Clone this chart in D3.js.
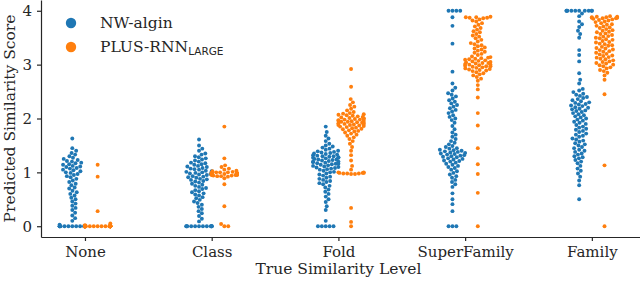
<!DOCTYPE html>
<html>
<head>
<meta charset="utf-8">
<script src="https://cdn.jsdelivr.net/npm/d3@7"></script>
<style>
  body { margin: 0; background: #fff; }
  text { font-family: "DejaVu Serif", serif; fill: #262626; }
</style>
</head>
<body>
<svg id="chart" width="640" height="281"></svg>
<script>
const categories = ["None", "Class", "Fold", "SuperFamily", "Family"];
const seriesNames = ["NW-algin", "PLUS-RNN"];
const yTicks = [0, 1, 2, 3, 4];

// NW-algin scores, one array per true similarity level
const nwNone = [0, 0, 0, 0, 0, 0, 0, 0, 0, 0, 0, 0, 0, 0, 0.03,
  0.1, 0.15, 0.2, 0.25, 0.3, 0.34, 0.38, 0.42,
  0.46, 0.5, 0.53, 0.57, 0.6, 0.63, 0.66, 0.7, 0.72, 0.76, 0.79, 0.82, 0.85, 0.88, 0.91, 0.93,
  0.95, 0.97, 0.99, 1.0, 1.02, 1.04, 1.05, 1.07, 1.08, 1.1, 1.11, 1.12, 1.14, 1.15, 1.17, 1.18, 1.2, 1.21, 1.23, 1.25, 1.27, 1.3,
  1.33, 1.36, 1.4, 1.45, 1.63];
const nwClass = [0, 0, 0, 0, 0, 0, 0, 0, 0, 0, 0, 0,
  0.09, 0.14, 0.19, 0.24, 0.28, 0.32, 0.36, 0.4, 0.43,
  0.46, 0.49, 0.52, 0.54, 0.57, 0.59, 0.61, 0.63, 0.65, 0.67, 0.69, 0.71, 0.73, 0.75, 0.77, 0.79, 0.81, 0.83, 0.84, 0.86,
  0.87, 0.88, 0.9, 0.91, 0.92, 0.93, 0.95, 0.96, 0.97, 0.98, 0.99, 1.0, 1.01, 1.02, 1.03, 1.05, 1.06, 1.07, 1.08, 1.1,
  1.11, 1.12, 1.14, 1.15, 1.17, 1.18, 1.2, 1.22, 1.24, 1.26, 1.28, 1.3, 1.33, 1.35,
  1.4, 1.44, 1.5, 1.61];
const nwFold = [0, 0, 0, 0, 0, 0.1,
  0.3, 0.37, 0.45, 0.5, 0.55, 0.6, 0.64, 0.68, 0.72, 0.75, 0.78, 0.8, 0.82, 0.84, 0.86,
  0.88, 0.9, 0.92, 0.94, 0.96, 0.98, 1.0, 1.01, 1.03, 1.05, 1.06, 1.07, 1.08, 1.09,
  1.1, 1.11, 1.12, 1.13, 1.14, 1.15, 1.16, 1.16, 1.17, 1.18, 1.19, 1.2, 1.2, 1.21, 1.22, 1.23, 1.24, 1.24,
  1.25, 1.26, 1.27, 1.27, 1.28, 1.29, 1.3, 1.3, 1.31, 1.32, 1.33, 1.34, 1.35, 1.36, 1.37, 1.38, 1.39, 1.4,
  1.42, 1.44, 1.46, 1.48, 1.5, 1.53, 1.58, 1.63, 1.68, 1.75, 1.85];
const nwSuperFamily = [0, 0, 0, 0.28, 0.41, 0.5, 0.61,
  0.73, 0.78, 0.82, 0.86, 0.9, 0.93, 0.96, 0.99, 1.02, 1.05, 1.08,
  1.1, 1.12, 1.14, 1.16, 1.18, 1.2, 1.21, 1.22, 1.24, 1.25, 1.26, 1.28, 1.29, 1.3, 1.31, 1.32, 1.33, 1.34,
  1.35, 1.36, 1.37, 1.38, 1.39, 1.4, 1.41, 1.42, 1.44, 1.45, 1.47, 1.49, 1.52, 1.55, 1.58, 1.62, 1.66, 1.7, 1.74,
  1.8, 1.86, 1.92, 1.97,
  2.0, 2.03, 2.06, 2.1, 2.13, 2.16, 2.19, 2.22, 2.25, 2.28, 2.31, 2.34, 2.37, 2.41, 2.44,
  2.47, 2.52, 2.57, 2.65, 2.87, 3.39, 3.72, 3.88, 4, 4, 4, 4];
const nwFamily = [0.5, 0.76, 0.85, 0.92, 0.98, 1.03, 1.07, 1.12, 1.17,
  1.2, 1.23, 1.26, 1.28, 1.3, 1.33, 1.35, 1.38, 1.4, 1.42, 1.45, 1.47, 1.5, 1.52, 1.54, 1.57, 1.59, 1.61, 1.63,
  1.66, 1.68, 1.7, 1.72, 1.75, 1.77, 1.79, 1.81, 1.83, 1.85, 1.88, 1.9, 1.92, 1.94, 1.96, 1.98, 2.0, 2.02,
  2.04, 2.06, 2.08, 2.1,
  2.12, 2.14, 2.15, 2.17, 2.18, 2.2, 2.21, 2.23, 2.24, 2.26, 2.27, 2.29, 2.3, 2.32, 2.34, 2.36, 2.38, 2.4,
  2.42, 2.44, 2.46, 2.49, 2.52, 2.55,
  2.65, 2.72, 2.84, 3.06, 3.18, 3.27, 3.5, 3.57, 3.63, 3.7, 3.75, 3.8, 3.9, 3.95,
  4, 4, 4, 4, 4, 4, 4, 4, 4, 4];

// PLUS-RNN(LARGE) scores
const plusNone = [0, 0, 0, 0, 0, 0, 0, 0, 0, 0, 0, 0, 0, 0, 0, 0, 0, 0, 0, 0,
  0, 0, 0, 0, 0, 0, 0, 0, 0, 0, 0, 0, 0, 0, 0, 0, 0, 0, 0, 0,
  0.01, 0.01, 0.02, 0.05, 0.28, 0.92, 1.14];
const plusClass = [0, 0, 0.04, 0.37, 0.78, 0.89,
  0.92, 0.93, 0.93, 0.94, 0.94, 0.95, 0.95, 0.95, 0.96, 0.96, 0.96, 0.97, 0.97, 0.97, 0.97,
  0.98, 0.98, 0.98, 0.98, 0.99, 0.99, 0.99, 1.0, 1.0, 1.0, 1.01, 1.02,
  1.03, 1.05, 1.07, 1.1, 1.13, 1.26, 1.85];
const plusFold = [0, 0.08, 0.34,
  0.97, 0.97, 0.98, 0.98, 0.98, 0.99, 0.99, 0.99, 1.0, 1.0,
  1.05, 1.12, 1.22, 1.32, 1.4, 1.47, 1.53, 1.58, 1.62, 1.65, 1.68, 1.7, 1.72, 1.74, 1.76, 1.77, 1.78,
  1.8, 1.81, 1.82, 1.83,
  1.84, 1.85, 1.86, 1.87, 1.88, 1.88, 1.89, 1.9, 1.9, 1.91, 1.92, 1.92, 1.93, 1.94, 1.94, 1.95, 1.96, 1.96,
  1.97, 1.98, 1.98, 1.99, 2.0, 2.0, 2.01, 2.02, 2.03, 2.04, 2.05, 2.06, 2.07, 2.08, 2.09, 2.1, 2.12,
  2.15, 2.18, 2.22, 2.25, 2.3, 2.36, 2.59, 2.92];
const plusSuperFamily = [0, 0.62, 0.97, 1.15, 1.45, 1.87, 2.1, 2.39, 2.54, 2.62,
  2.7, 2.74, 2.77, 2.8, 2.82, 2.84, 2.86,
  2.88, 2.89, 2.9, 2.91, 2.92, 2.93, 2.94, 2.95, 2.96, 2.97, 2.97, 2.98, 2.99, 3.0, 3.0, 3.01, 3.02, 3.03,
  3.03, 3.04, 3.05, 3.06, 3.07, 3.08, 3.09, 3.1, 3.11, 3.12, 3.13, 3.14, 3.15,
  3.18, 3.2, 3.22, 3.24, 3.26, 3.28, 3.3, 3.32, 3.34, 3.36, 3.38, 3.4,
  3.43, 3.46, 3.49, 3.52, 3.54, 3.57, 3.6, 3.62, 3.65, 3.68, 3.71, 3.74, 3.77, 3.8, 3.82, 3.84,
  3.86, 3.87, 3.87, 3.88, 3.88, 3.89];
const plusFamily = [0, 1.13, 2.45, 2.72, 2.8, 2.85, 2.88, 2.9, 2.93, 2.95,
  2.97, 2.99, 3.0, 3.02, 3.03, 3.05, 3.06, 3.08, 3.1, 3.11, 3.13, 3.14, 3.16, 3.17, 3.19, 3.2, 3.22, 3.24,
  3.25, 3.27, 3.28, 3.3, 3.31, 3.33, 3.35, 3.36, 3.38, 3.39, 3.41, 3.42, 3.44, 3.46, 3.47, 3.49, 3.5, 3.52,
  3.53, 3.55, 3.57, 3.58, 3.6, 3.61, 3.63, 3.64, 3.66, 3.68, 3.69, 3.71, 3.72, 3.74, 3.75, 3.77, 3.79, 3.8, 3.82,
  3.83, 3.84, 3.85, 3.86, 3.86, 3.87, 3.87, 3.88, 3.88, 3.89, 3.89, 3.9];

const nwGroups = [nwNone, nwClass, nwFold, nwSuperFamily, nwFamily];
const plusGroups = [plusNone, plusClass, plusFold, plusSuperFamily, plusFamily];

const colors = ["#1f77b4", "#ff7f0e"];
const dot = 3.9;          // marker diameter in px
const dodge = 0.1;        // hue offset in category units
const halfWidth = 0.1;    // swarm gutter (category units)

const svg = d3.select("#chart");

const xScale = d3.scaleLinear().domain([-0.347, 4.38]).range([41, 640]);
const yScale = d3.scaleLinear().domain([-0.2, 4.2]).range([237, 0]);

// Beeswarm: place each point (low to high) at the free spot closest to the centre
function swarm(values, cx) {
  const pts = values.slice().sort((a, b) => a - b).map(v => ({ y: yScale(v), x: 0 }));
  const placed = [];
  const d2 = dot * dot;
  pts.forEach(p => {
    const near = placed.filter(q => Math.abs(q.y - p.y) < dot);
    const cands = [0];
    near.forEach(q => {
      const dx = Math.sqrt(d2 - (q.y - p.y) ** 2);
      cands.push(q.x + dx, q.x - dx);
    });
    cands.sort((a, b) => Math.abs(a) - Math.abs(b));
    for (const c of cands) {
      if (near.every(q => (q.x - c) ** 2 + (q.y - p.y) ** 2 >= d2 - 1e-6)) { p.x = c; break; }
    }
    placed.push(p);
  });
  const gutter = xScale(halfWidth) - xScale(0);
  return pts.map(p => ({ x: cx + Math.max(-gutter, Math.min(gutter, p.x)), y: p.y }));
}

// Axes
const yAxis = d3.axisLeft(yScale).tickValues(yTicks).tickFormat(d3.format("d"))
  .tickSize(4).tickSizeOuter(0).tickPadding(5);
const xAxis = d3.axisBottom(xScale).tickValues(d3.range(categories.length))
  .tickFormat(i => categories[i]).tickSize(4).tickSizeOuter(0).tickPadding(5);

const gy = svg.append("g").attr("transform", "translate(41,0)").call(yAxis);
const gx = svg.append("g").attr("transform", "translate(0,237)").call(xAxis);
[gx, gy].forEach(g => {
  g.attr("font-family", null).attr("font-size", null);
  g.select(".domain").attr("stroke", "#262626").attr("stroke-width", 1.2);
  g.selectAll(".tick line").attr("stroke", "#262626").attr("stroke-width", 1.2);
  g.selectAll(".tick text").attr("font-size", 15).attr("fill", "#262626");
});

svg.append("text")
  .attr("transform", "translate(15," + yScale(2) + ") rotate(-90)")
  .attr("text-anchor", "middle")
  .attr("font-size", 15.5)
  .text("Predicted Similarity Score");

svg.append("text")
  .attr("x", xScale(2))
  .attr("y", 274)
  .attr("text-anchor", "middle")
  .attr("font-size", 15.5)
  .text("True Similarity Level");

// Swarms
[nwGroups, plusGroups].forEach((groups, s) => {
  groups.forEach((vals, i) => {
    const cx = xScale(i + (s === 0 ? -dodge : dodge));
    svg.append("g")
      .selectAll("circle")
      .data(swarm(vals, cx))
      .join("circle")
      .attr("cx", d => d.x)
      .attr("cy", d => d.y)
      .attr("r", dot / 2)
      .attr("fill", colors[s]);
  });
});

// Legend
const legend = svg.append("g");
seriesNames.forEach((name, s) => {
  const ly = 23 + s * 24;
  legend.append("circle").attr("cx", 71).attr("cy", ly).attr("r", 5.2).attr("fill", colors[s]);
  const t = legend.append("text").attr("x", 100).attr("y", ly + 5).attr("font-size", 15.5).text(name);
  if (s === 1) {
    t.append("tspan")
      .attr("font-family", "DejaVu Sans")
      .attr("font-size", 10.5)
      .attr("dy", 3)
      .text("LARGE");
  }
});
</script>
</body>
</html>
